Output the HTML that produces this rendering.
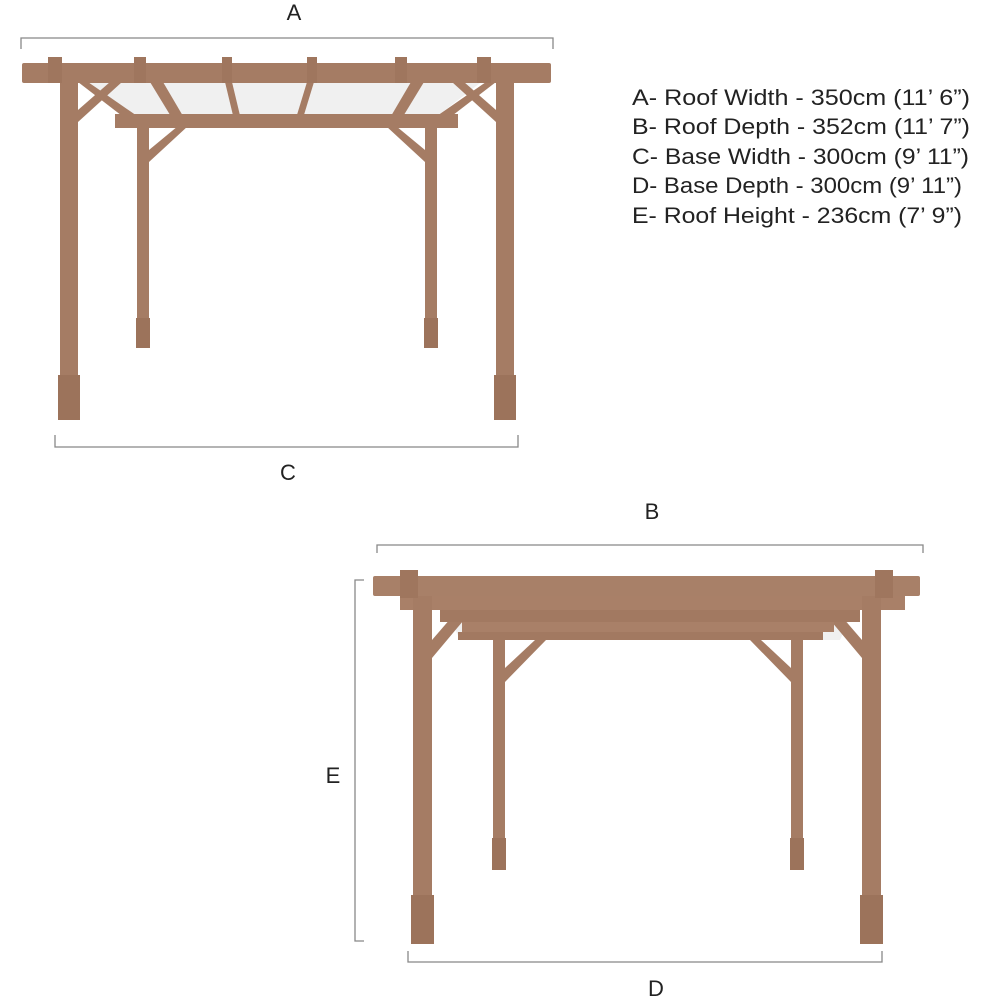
<!DOCTYPE html>
<html><head><meta charset="utf-8"><style>
html,body{margin:0;padding:0;background:#fff;width:1000px;height:1000px;overflow:hidden}
svg{display:block}
.t{font-family:"Liberation Sans",sans-serif;fill:#222}
</style></head><body>
<svg width="1000" height="1000" viewBox="0 0 1000 1000" xmlns="http://www.w3.org/2000/svg">
<g fill="none" stroke="#888" stroke-width="1.3">
<path d="M21 49V38H553V49"/>
<path d="M55 435V447H518V435"/>
<path d="M377 553V545H923V553"/>
<path d="M364 580H355V941H364"/>
<path d="M408 951V962H882V951"/>
</g>
<g class="t" font-size="22">
<text x="294" y="20" text-anchor="middle">A</text>
<text x="288" y="480" text-anchor="middle">C</text>
<text x="652" y="519" text-anchor="middle">B</text>
<text x="333" y="783" text-anchor="middle">E</text>
<text x="656" y="996" text-anchor="middle">D</text>
<text x="632" y="105" textLength="338" lengthAdjust="spacingAndGlyphs">A- Roof Width - 350cm (11’ 6”)</text>
<text x="632" y="134" textLength="338" lengthAdjust="spacingAndGlyphs">B- Roof Depth - 352cm (11’ 7”)</text>
<text x="632" y="164" textLength="337" lengthAdjust="spacingAndGlyphs">C- Base Width - 300cm (9’ 11”)</text>
<text x="632" y="193" textLength="330" lengthAdjust="spacingAndGlyphs">D- Base Depth - 300cm (9’ 11”)</text>
<text x="632" y="223" textLength="330" lengthAdjust="spacingAndGlyphs">E- Roof Height - 236cm (7’ 9”)</text>
</g>
<!-- glass -->
<polygon points="90,83 480,83 440,114 130,114" fill="#f0f0f0"/>
<polygon points="440,596 860,596 840,640 460,640" fill="#f0f0f0"/>
<!-- top pergola -->
<g fill="#a57c64">
<rect x="137" y="126" width="12" height="222"/>
<rect x="425" y="126" width="12" height="222"/>
<rect x="136" y="318" width="14" height="30" fill="#9c735b"/>
<rect x="424" y="318" width="14" height="30" fill="#9c735b"/>
<polygon points="149,150 178,126 188,126 149,162"/>
<polygon points="425,150 396,126 386,126 425,162"/>
<polygon points="78,110 110,82 122,82 78,122"/>
<polygon points="496,110 464,82 452,82 496,122"/>
<polygon points="78,82 88,82 140,118 130,122"/>
<polygon points="496,82 486,82 434,118 444,122"/>
<polygon points="150,82 163,82 190,128 178,128"/>
<polygon points="424,82 411,82 384,128 396,128"/>
<polygon points="225,82 232,82 243,128 236,128"/>
<polygon points="307,82 314,82 300,128 293,128"/>
<rect x="115" y="114" width="343" height="14"/>
<rect x="60" y="82" width="18" height="338"/>
<rect x="496" y="82" width="18" height="338"/>
<rect x="58" y="375" width="22" height="45" fill="#9c735b"/>
<rect x="494" y="375" width="22" height="45" fill="#9c735b"/>
<rect x="22" y="63" width="529" height="20" rx="2"/>
<rect x="48" y="57" width="14" height="26" fill="#9f765e"/>
<rect x="134" y="57" width="12" height="26" fill="#9f765e"/>
<rect x="222" y="57" width="10" height="26" fill="#9f765e"/>
<rect x="307" y="57" width="10" height="26" fill="#9f765e"/>
<rect x="395" y="57" width="12" height="26" fill="#9f765e"/>
<rect x="477" y="57" width="14" height="26" fill="#9f765e"/>
</g>
<!-- bottom pergola -->
<g fill="#a57c64">
<rect x="493" y="640" width="12" height="230"/>
<rect x="791" y="640" width="12" height="230"/>
<rect x="492" y="838" width="14" height="32" fill="#9c735b"/>
<rect x="790" y="838" width="14" height="32" fill="#9c735b"/>
<polygon points="505,668 535,640 546,640 505,682"/>
<polygon points="791,668 761,640 750,640 791,682"/>
<polygon points="432,640 470,596 484,596 432,658"/>
<polygon points="862,640 824,596 810,596 862,658"/>
<rect x="400" y="596" width="505" height="14" fill="#a98068"/>
<rect x="440" y="610" width="420" height="12" fill="#a27961"/>
<rect x="462" y="622" width="372" height="10" fill="#a98068"/>
<rect x="458" y="632" width="365" height="8" fill="#a27961"/>
<rect x="413" y="596" width="19" height="348"/>
<rect x="862" y="596" width="19" height="348"/>
<rect x="411" y="895" width="23" height="49" fill="#9c735b"/>
<rect x="860" y="895" width="23" height="49" fill="#9c735b"/>
<rect x="373" y="576" width="547" height="20" rx="2" fill="#a88068"/>
<rect x="400" y="570" width="18" height="28" fill="#9f765e"/>
<rect x="875" y="570" width="18" height="28" fill="#9f765e"/>
</g>
</svg>
</body></html>
